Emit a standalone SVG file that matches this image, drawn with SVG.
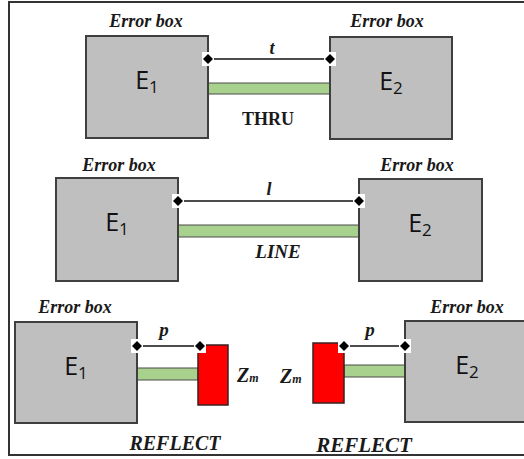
<svg xmlns="http://www.w3.org/2000/svg" width="524" height="459" viewBox="0 0 524 459">
<style>
.box{fill:#bfbfbf;stroke:#3f3f3f;stroke-width:2}
.zm{fill:#ff0000;stroke:#3a2020;stroke-width:1.5}
.bar{fill:#a9d18e;stroke:#4a4a4a;stroke-width:1}
.wire{stroke:#111;stroke-width:1.6;fill:none}
.dot{fill:#000}
.patch{fill:#fff}
.lbl{font-family:"Liberation Serif",serif;font-style:italic;font-weight:bold;font-size:18px;fill:#1a1a1a;text-anchor:middle}
.cap{font-family:"Liberation Serif",serif;font-weight:bold;font-size:18px;fill:#1a1a1a;text-anchor:middle}
.e{font-family:"Open Sans","Liberation Sans",sans-serif;font-size:25px;fill:#111;text-anchor:middle}
.sub{font-size:17px}
</style>
<defs>
<g id="term"><rect class="patch" x="-6" y="-7" width="12" height="14"/><path class="dot" d="M0,-5 L5,0 L0,5 L-5,0 Z"/></g>
</defs>
<rect x="9" y="2" width="530" height="453" fill="#fff" stroke="#333" stroke-width="2"/>
<g id="connectors">
<line class="wire" x1="208" y1="59" x2="330" y2="59"/>
<rect class="bar" x="208" y="83" width="122" height="11"/>
<line class="wire" x1="178" y1="201" x2="359" y2="201"/>
<rect class="bar" x="178" y="225" width="181" height="12"/>
<line class="wire" x1="137" y1="346" x2="200" y2="346"/>
<rect class="bar" x="137" y="368" width="61" height="12"/>
<line class="wire" x1="344" y1="346" x2="405" y2="346"/>
<rect class="bar" x="344" y="365" width="61" height="12"/>
</g>
<g id="thru-e1"><rect class="box" x="86" y="36" width="122" height="102"/><text class="e" x="147" y="89">E<tspan class="sub" dy="4">1</tspan></text><text class="lbl" x="146" y="27">Error box</text></g>
<g id="thru-e2"><rect class="box" x="330" y="37" width="122" height="102"/><text class="e" x="391" y="90">E<tspan class="sub" dy="4">2</tspan></text><text class="lbl" x="387" y="27">Error box</text></g>
<g id="line-e1"><rect class="box" x="56" y="178" width="122" height="103"/><text class="e" x="117" y="231">E<tspan class="sub" dy="4">1</tspan></text><text class="lbl" x="119" y="171">Error box</text></g>
<g id="line-e2"><rect class="box" x="359" y="179" width="123" height="102"/><text class="e" x="420" y="232">E<tspan class="sub" dy="4">2</tspan></text><text class="lbl" x="417" y="171">Error box</text></g>
<g id="reflect-e1"><rect class="box" x="15" y="322" width="122" height="101"/><text class="e" x="76" y="375">E<tspan class="sub" dy="4">1</tspan></text><text class="lbl" x="75" y="313">Error box</text></g>
<g id="reflect-zm1"><rect class="zm" x="198" y="345" width="30" height="60"/><text class="lbl" x="237" y="382" style="text-anchor:start;font-size:20px">Z<tspan style="font-size:12px">m</tspan></text></g>
<g id="reflect-zm2"><rect class="zm" x="313" y="343" width="31" height="60"/><text class="lbl" x="280" y="383" style="text-anchor:start;font-size:20px">Z<tspan style="font-size:12px">m</tspan></text></g>
<g id="reflect-e2"><rect class="box" x="405" y="321" width="130" height="101"/><text class="e" x="467" y="374">E<tspan class="sub" dy="4">2</tspan></text><text class="lbl" x="467" y="313">Error box</text></g>
<g id="terminals">
<use href="#term" x="208" y="59"/><use href="#term" x="330" y="59"/>
<use href="#term" x="178" y="201"/><use href="#term" x="359" y="201"/>
<use href="#term" x="137" y="346"/><use href="#term" x="200" y="346"/>
<use href="#term" x="344" y="346"/><use href="#term" x="405" y="346"/>
</g>
<g id="labels">
<text class="lbl" x="272" y="54">t</text>
<text class="cap" x="268" y="125">THRU</text>
<text class="lbl" x="269" y="195">l</text>
<text class="lbl" x="278" y="258" style="font-size:19px">LINE</text>
<text class="lbl" x="164" y="336" style="font-size:19px">p</text>
<text class="lbl" x="370" y="336" style="font-size:19px">p</text>
<text class="lbl" x="175" y="450" style="font-size:20px">REFLECT</text>
<text class="lbl" x="364" y="452" style="font-size:21px">REFLECT</text>
</g>
</svg>
